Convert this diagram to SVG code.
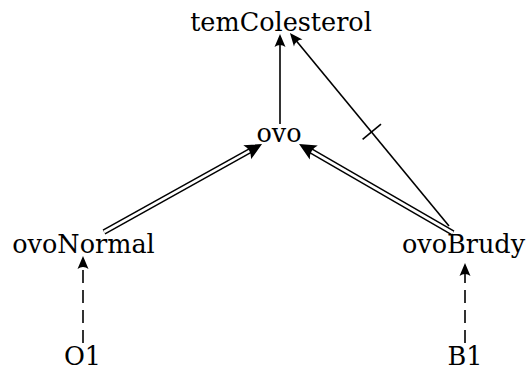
<svg xmlns="http://www.w3.org/2000/svg" width="531" height="370" viewBox="0 0 531 370">
<style>
  text { font-family: "DejaVu Serif", "Liberation Serif", serif; font-size: 25.5px; fill: #000; text-anchor: middle; }
  .ln { fill: none; stroke: #000; stroke-width: 1.6; }
  .dash { stroke-dasharray: 13 7; }
  .dblo { fill: none; stroke: #000; stroke-width: 5.6; }
  .dbli { fill: none; stroke: #fff; stroke-width: 2.6; }
</style>
<defs>
  <marker id="arr" viewBox="-14 -7 15 14" refX="-7" refY="0" markerWidth="15" markerHeight="14" markerUnits="userSpaceOnUse" orient="auto">
    <path d="M0,0 L-13,-5.5 Q-9,0 -13,5.5 Z" fill="#000"/>
  </marker>
  <marker id="arr2" viewBox="-18 -9 19 18" refX="-10" refY="0" markerWidth="19" markerHeight="18" markerUnits="userSpaceOnUse" orient="auto">
    <path d="M0,0 L-17,-8 Q-12,0 -17,8 Z" fill="#000"/>
  </marker>
</defs>
<g id="connectors">
  <line class="ln" x1="280" y1="124" x2="280" y2="41" marker-end="url(#arr)"/>
  <line class="ln" x1="449" y1="226" x2="294.4" y2="38.4" marker-end="url(#arr)"/>
  <line class="ln" x1="362.6" y1="139.3" x2="381" y2="124.1"/>
  <line class="dblo" x1="104" y1="232" x2="253.3" y2="148.9"/>
  <line class="dbli" x1="104" y1="232" x2="253.3" y2="148.9" marker-end="url(#arr2)"/>
  <line class="dblo" x1="453" y1="233" x2="307.7" y2="149"/>
  <line class="dbli" x1="453" y1="233" x2="307.7" y2="149" marker-end="url(#arr2)"/>
  <line class="ln dash" x1="83" y1="343" x2="83" y2="263" marker-end="url(#arr)"/>
  <line class="ln dash" x1="465" y1="343" x2="465" y2="270" marker-end="url(#arr)"/>
</g>
<g id="temColesterol"><text x="281" y="31">temColesterol</text></g>
<g id="ovo"><text x="279" y="142">ovo</text></g>
<g id="ovoNormal"><text x="83.5" y="253">ovoNormal</text></g>
<g id="ovoBrudy"><text x="463.5" y="253">ovoBrudy</text></g>
<g id="O1"><text x="82.5" y="365">O1</text></g>
<g id="B1"><text x="465" y="365">B1</text></g>
</svg>
